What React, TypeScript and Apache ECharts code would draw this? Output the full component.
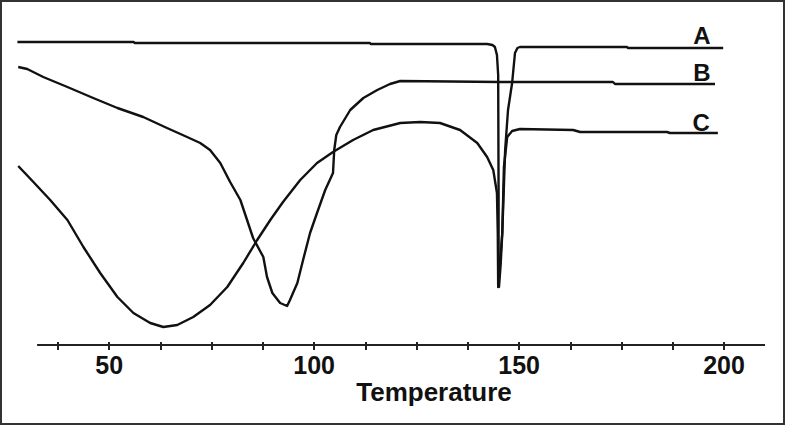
import React, { useEffect, useRef } from "react";
import * as echarts from "echarts";

// Temperature (°C) and heat-flow (arbitrary units, higher = up)
const curveA: [number, number][] = [
  [27.6, 303], [56.0, 303], [56.2, 302], [113.6, 302], [113.8, 301], [142.2, 301],
  [143.5, 300], [144.1, 298], [144.6, 290], [144.9, 270], [145.0, 150], [145.0, 70],
  [145.1, 58], [145.5, 80], [145.9, 112], [146.6, 195], [147.3, 235], [148.3, 262],
  [149.0, 292], [149.6, 297], [150.2, 298], [176.3, 298], [176.6, 297], [199.8, 297],
];

const curveB: [number, number][] = [
  [27.8, 278], [30.0, 276], [33.9, 268], [39.8, 258], [46.1, 247], [52.0, 237],
  [58.3, 228], [64.1, 217], [69.0, 208], [72.2, 202], [74.6, 195], [77.1, 182],
  [79.5, 163], [82.0, 145], [85.1, 107], [87.6, 88], [88.5, 68], [89.8, 52],
  [91.7, 42], [93.4, 39], [94.1, 45], [95.9, 62], [97.3, 85], [99.0, 112],
  [100.7, 132], [102.7, 155], [104.6, 172], [104.9, 195], [105.4, 210], [106.3, 218],
  [108.8, 235], [112.0, 247], [115.4, 255], [118.5, 261], [121.0, 264], [145.4, 263],
  [172.9, 263], [173.4, 261], [197.8, 261],
];

const curveC: [number, number][] = [
  [27.8, 179], [31.5, 163], [35.6, 145], [39.8, 125], [43.7, 98], [47.8, 72],
  [52.0, 48], [55.9, 32], [60.0, 22], [63.2, 18], [66.6, 20], [70.5, 28],
  [74.6, 40], [78.8, 58], [82.7, 82], [86.1, 105], [89.3, 125], [92.4, 143],
  [96.6, 165], [100.7, 182], [104.6, 193], [109.5, 205], [114.4, 215], [121.0, 222],
  [125.9, 223], [130.7, 222], [135.6, 215], [139.8, 202], [142.2, 188], [143.7, 175],
  [144.6, 152], [144.8, 112], [144.9, 58], [145.9, 112], [146.3, 178], [147.1, 208],
  [148.3, 214], [150.2, 216], [163.2, 215], [164.9, 213], [186.1, 213], [186.8, 212],
  [198.5, 212],
];

const seriesNames = ["A", "B", "C"];
const labelPositions: [number, number][] = [[194.6, 310], [194.6, 273], [194.4, 223]];
const tickValues = [37.5, 50, 62.5, 75, 87.5, 100, 112.5, 125, 137.5, 150, 162.5, 175, 187.5, 200];
const tickLabels = [50, 100, 150, 200];
const axisRange: [number, number] = [32.4, 210];
const axisTitle = "Temperature";

export default function App() {
  const ref = useRef<HTMLDivElement>(null);
  useEffect(() => {
    if (!ref.current) return;
    const chart = echarts.init(ref.current, undefined, { renderer: "svg" });
    const curves = [curveA, curveB, curveC];
    const font = "'Liberation Sans', Arial, sans-serif";
    const series: any[] = curves.map((d, i) => ({
      name: seriesNames[i],
      type: "line",
      data: d,
      showSymbol: false,
      smooth: false,
      lineStyle: { color: "#111", width: 2.4, join: "round" },
      markPoint: {
        symbol: "circle",
        symbolSize: 0,
        silent: true,
        data: [{ coord: labelPositions[i] }],
        label: {
          show: true,
          formatter: seriesNames[i],
          position: "inside",
          color: "#111",
          fontSize: 24,
          fontWeight: "bold",
          fontFamily: font,
        },
      },
    }));
    series.push({
      type: "line",
      data: [],
      markLine: {
        silent: true,
        symbol: "none",
        label: { show: false },
        lineStyle: { color: "#222", width: 2, type: "solid" },
        data: [[{ coord: [axisRange[0], 0] }, { coord: [axisRange[1], 0] }]],
      },
    });
    chart.setOption({
      animation: false,
      backgroundColor: "#fff",
      grid: { left: 17, right: 20, top: 20, bottom: 80 },
      xAxis: [
        {
          type: "value",
          min: 27.5,
          max: 210,
          position: "bottom",
          axisLine: { show: false },
          splitLine: { show: false },
          axisTick: {
            show: true,
            customValues: tickValues,
            length: 5,
            lineStyle: { color: "#222", width: 2 },
          },
          axisLabel: {
            show: true,
            customValues: tickLabels,
            margin: 7,
            color: "#111",
            fontSize: 25,
            fontWeight: "bold",
            fontFamily: font,
          },
        },
        {
          type: "value",
          min: 27.5,
          max: 210,
          position: "bottom",
          offset: 0,
          axisLine: { show: false },
          splitLine: { show: false },
          axisTick: {
            show: true,
            inside: true,
            customValues: tickValues,
            length: 3,
            lineStyle: { color: "#222", width: 2 },
          },
          axisLabel: { show: false },
        },
      ],
      yAxis: { type: "value", min: 0, max: 325, show: false },
      series,
      graphic: [
        {
          type: "rect",
          shape: { x: 1, y: 1, width: 783, height: 423 },
          style: { fill: "none", stroke: "#333", lineWidth: 2 },
          silent: true,
        },
        {
          type: "text",
          x: 434,
          y: 392,
          style: {
            text: axisTitle,
            fill: "#111",
            font: `bold 26px ${font}`,
            textAlign: "center",
            textVerticalAlign: "middle",
          },
        },
      ],
    });
    return () => chart.dispose();
  }, []);
  return (
    <div
      ref={ref}
      style={{ position: "fixed", left: 0, top: 0, width: 785, height: 425, background: "#fff" }}
    />
  );
}
